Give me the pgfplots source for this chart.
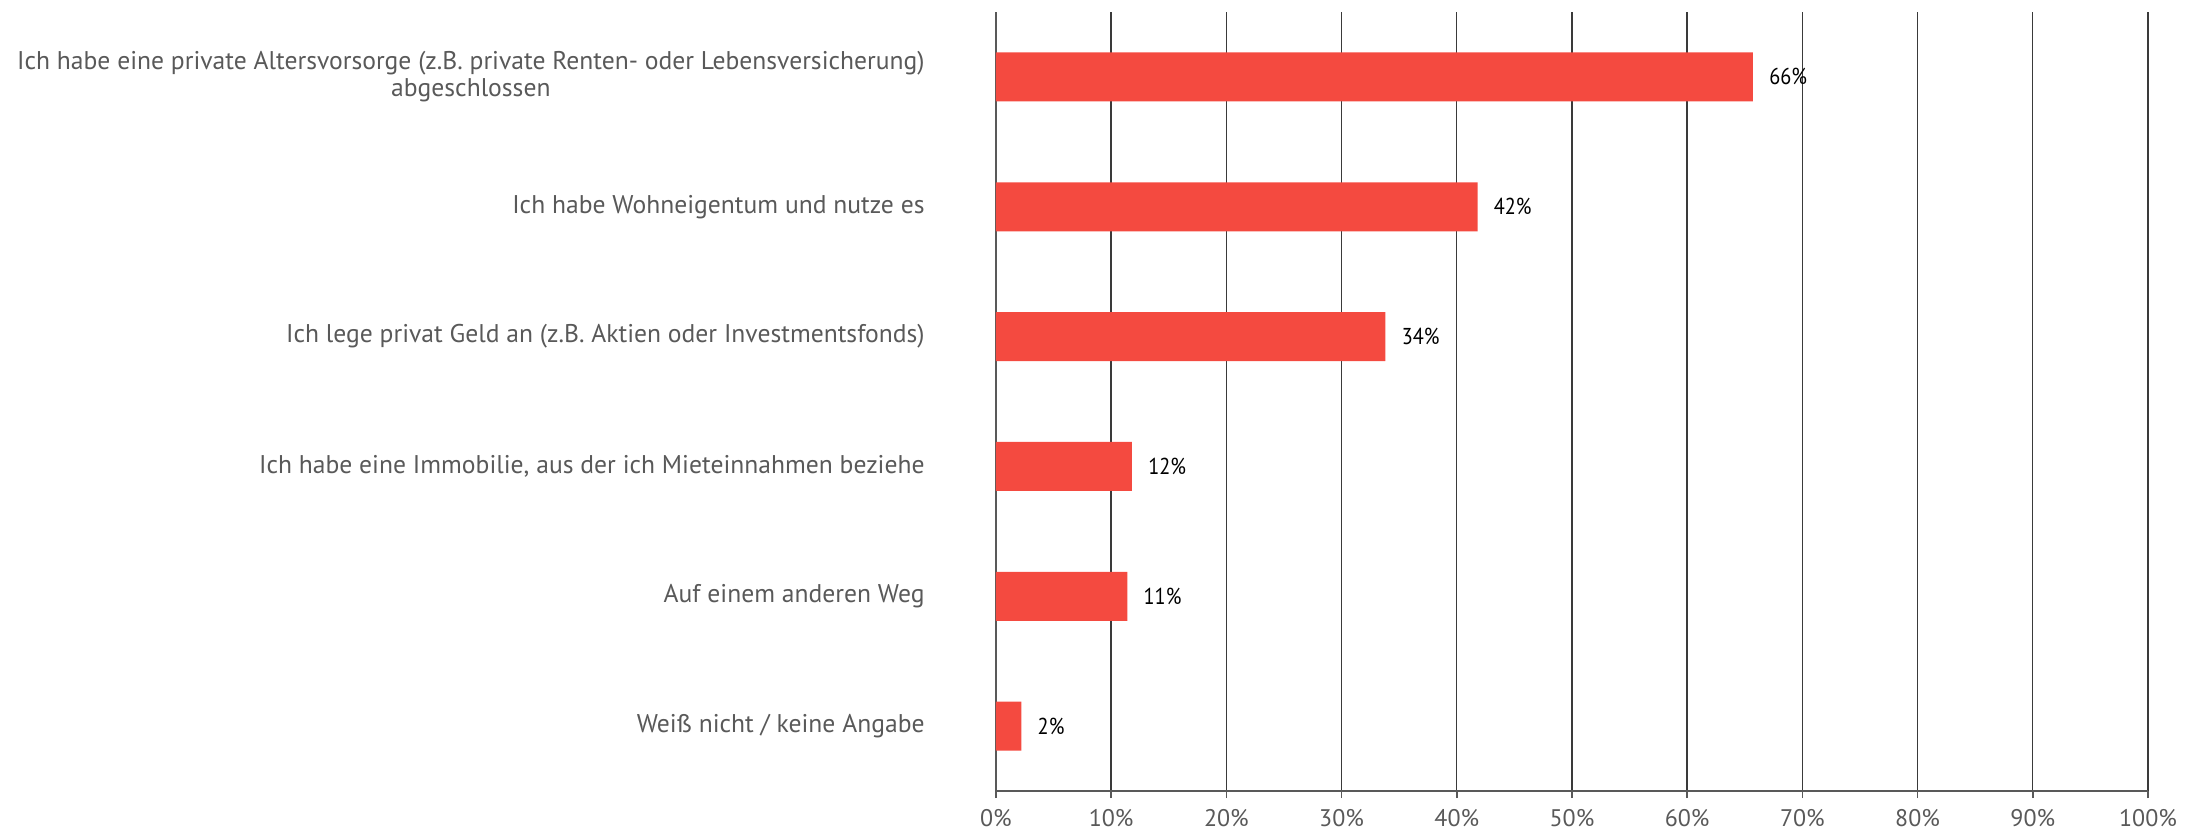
\documentclass[border=0pt]{standalone}
\usepackage{pgfplots}
\pgfplotsset{compat=1.18}
\usepackage{pgfplotstable}
\usepackage{fontspec}
\setmainfont{PT Sans}
\newfontfamily\valfont[FakeStretch=0.88]{PT Sans}
\definecolor{barred}{HTML}{F44A40}
\definecolor{txtgrey}{HTML}{595959}
\definecolor{gridgrey}{HTML}{3A3A3A}
\pgfplotstableread{
idx val meta
0 65.7 66
1 41.8 42
2 33.8 34
3 11.8 12
4 11.4 11
5 2.2 2
}\datatable
\begin{document}
\begin{tikzpicture}
\useasboundingbox (-498pt,-20pt) rectangle (605pt,395.5pt);
\begin{axis}[
  at={(0,0)}, anchor=south west,
  scale only axis, width=576pt, height=389.5pt,
  xbar, bar width=24.5pt,
  xmin=0, xmax=100,
  ymin=-0.5, ymax=5.5, y dir=reverse,
  axis x line*=bottom, axis y line*=left,
  axis line style={txtgrey, line width=0.8pt},
  xtick={0,10,...,100},
  xticklabels={0\%,10\%,20\%,30\%,40\%,50\%,60\%,70\%,80\%,90\%,100\%},
  ytick={0,...,5},
  yticklabels={{Ich habe eine private Altersvorsorge (z.B. private Renten- oder Lebensversicherung)\\abgeschlossen},
    {Ich habe Wohneigentum und nutze es},
    {Ich lege privat Geld an (z.B. Aktien oder Investmentsfonds)},
    {Ich habe eine Immobilie, aus der ich Mieteinnahmen beziehe},
    {Auf einem anderen Weg},
    {Weiß nicht / keine Angabe}},
  minor ytick={-0.5,0.5,...,5.5},
  tick align=outside,
  major tick length=3.5pt, minor tick length=3.5pt,
  ytick style={draw=none},
  minor tick style={draw=txtgrey, line width=0.8pt},
  xtick style={draw=txtgrey, line width=0.8pt},
  xmajorgrids,
  major grid style={gridgrey, line width=0.7pt},
  /pgf/number format/assume math mode=true,
  xticklabel style={font=\fontsize{12}{14}\selectfont, text=txtgrey, yshift=-2pt},
  yticklabel style={font=\fontsize{12.8}{13.5}\selectfont, text=txtgrey, align=center, anchor=east, inner sep=0pt, xshift=-32pt},
  nodes near coords={\pgfmathprintnumber{\pgfplotspointmeta}\%},
  point meta=explicit,
  nodes near coords style={font=\valfont\fontsize{11.5}{13.5}\selectfont, text=black, anchor=west, inner sep=0pt, xshift=8pt},
  clip=false,
]
\addplot[fill=barred, draw=none] table[x=val, y=idx, meta=meta] {\datatable};
\end{axis}
\end{tikzpicture}
\end{document}
